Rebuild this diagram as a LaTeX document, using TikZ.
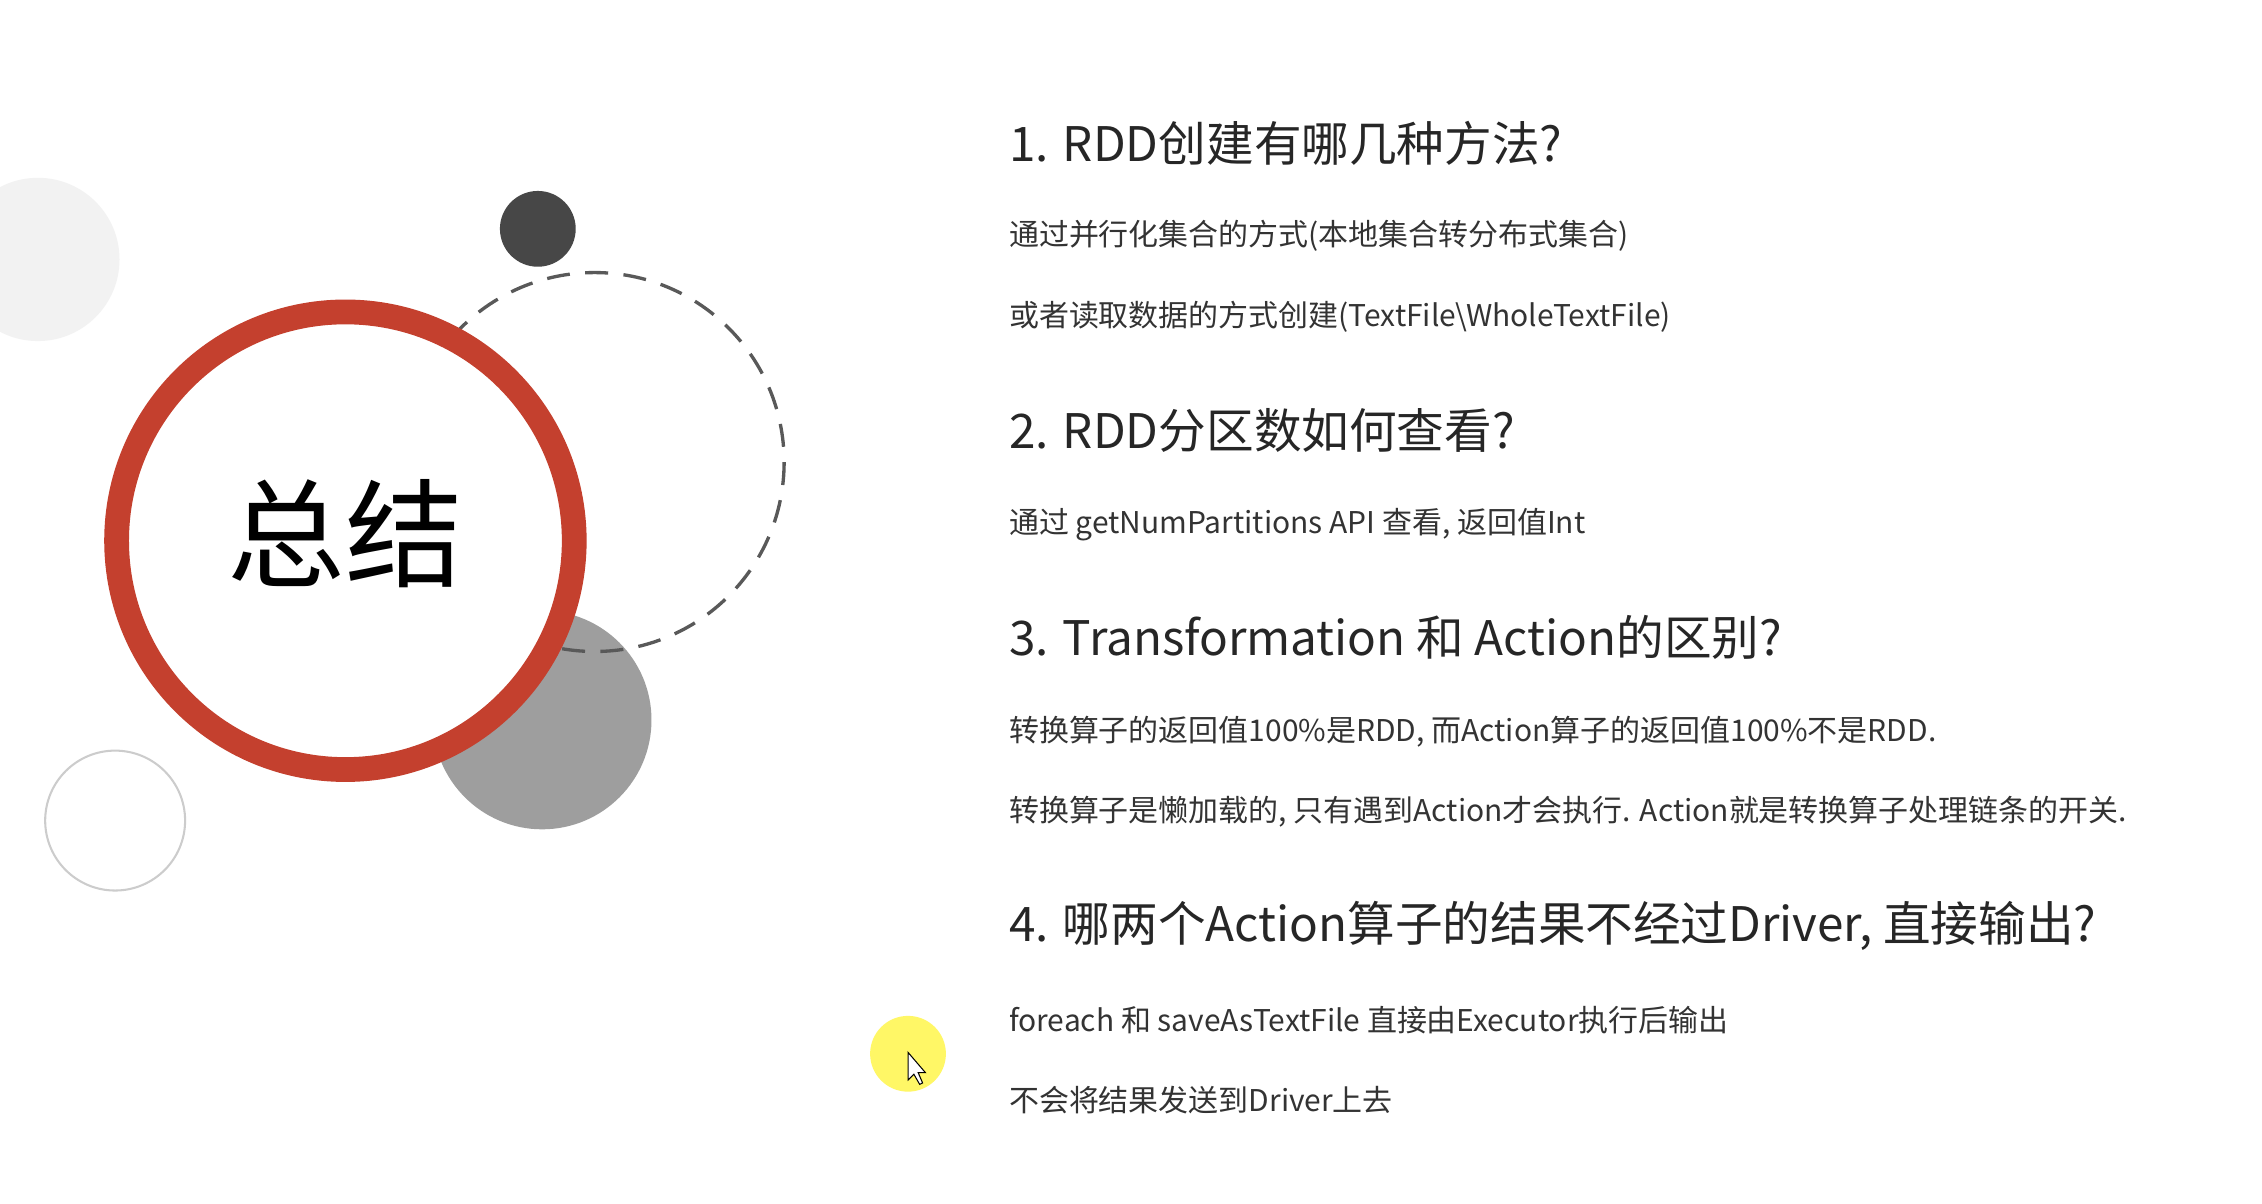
\documentclass[tikz,border=0pt]{standalone}
\usepackage{fontspec}
\setmainfont{Noto Sans CJK SC}
\begin{document}
\begin{tikzpicture}[x=0.02cm,y=-0.02cm,
 h/.style={anchor=west,inner sep=0pt,font=\fontsize{18.6}{22}\selectfont,text=black!85},
 t/.style={anchor=west,inner sep=0pt,font=\fontsize{11.7}{15}\selectfont,text=black!80}]
\useasboundingbox (0,0) rectangle (1552,826);
\fill[white] (0,0) rectangle (1552,826);
\fill[black!5] (26,178) circle (56);
\fill[black!38] (372,494) circle (75);
\draw[black!65,line width=1.3pt,dash pattern=on 9pt off 6pt] (408,317) circle (130);
\fill[black!72] (369,157) circle (26);
\fill[white,draw={rgb,255:red,196;green,64;blue,46},line width=0.34cm] (237,371) circle (157);
\node[font=\fontsize{46}{50}\selectfont] (title) at (237,366) {总结};
\draw[black!20,line width=0.8pt] (79,563) circle (48);
\fill[yellow!60!white] (623,723) circle (26);
\draw[black,fill=white] (623,722) -- (623,741) -- (627,737) -- (631,744) -- (633,743) -- (630,736) -- (635,736) -- cycle;
\node[h] (h1) at (692,98) {1. RDD创建有哪几种方法?};
\node[t] (a1) at (692,162) {通过并行化集合的方式(本地集合转分布式集合)};
\node[t] (a2) at (692,217) {或者读取数据的方式创建(TextFile\textbackslash WholeTextFile)};
\node[h] (h2) at (692,295) {2. RDD分区数如何查看?};
\node[t] (b1) at (692,360) {通过 getNumPartitions API 查看, 返回值Int};
\node[h] (h3) at (692,437) {3. Transformation 和 Action的区别?};
\node[t] (c1) at (692,502) {转换算子的返回值100\%是RDD, 而Action算子的返回值100\%不是RDD.};
\node[t] (c2) at (692,557) {转换算子是懒加载的, 只有遇到Action才会执行. Action就是转换算子处理链条的开关.};
\node[h] (h4) at (692,635) {4. 哪两个Action算子的结果不经过Driver, 直接输出?};
\node[t] (d1) at (692,700) {foreach 和 saveAsTextFile 直接由Executor执行后输出};
\node[t] (d2) at (692,755) {不会将结果发送到Driver上去};
\end{tikzpicture}
\end{document}
